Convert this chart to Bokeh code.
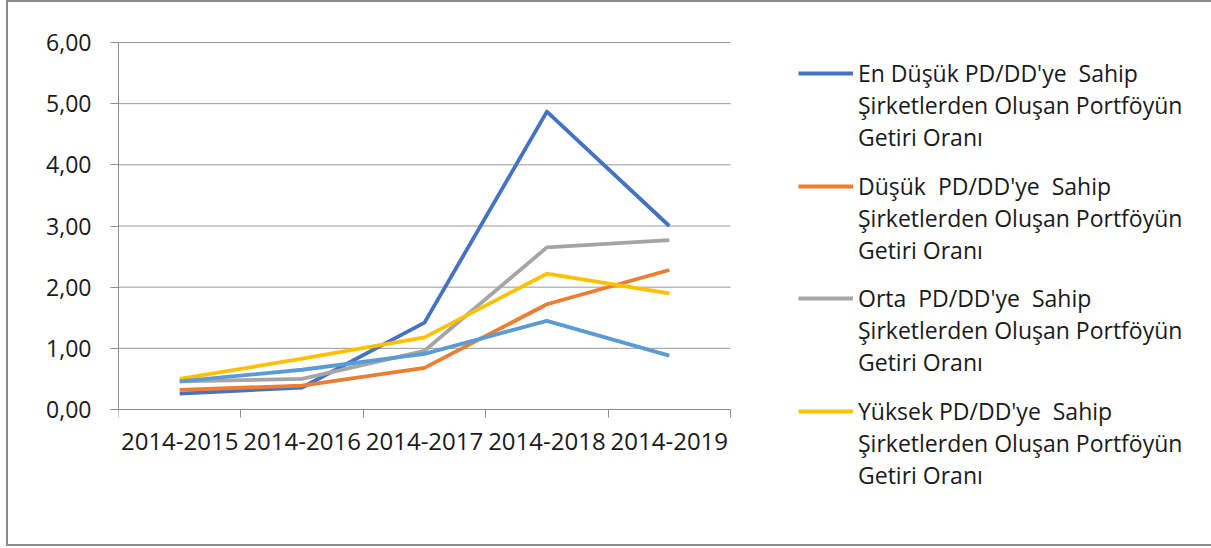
from bokeh.plotting import figure
from bokeh.models import Legend, LegendItem, FixedTicker, ColumnDataSource, Range1d
from bokeh.embed import file_html
from bokeh.resources import INLINE

categories = ["2014-2015", "2014-2016", "2014-2017", "2014-2018", "2014-2019"]
en_dusuk = [0.26, 0.36, 1.42, 4.87, 3.00]
dusuk = [0.32, 0.39, 0.68, 1.72, 2.28]
orta = [0.46, 0.50, 0.96, 2.65, 2.77]
yuksek = [0.50, 0.83, 1.18, 2.22, 1.90]
en_yuksek = [0.46, 0.65, 0.91, 1.45, 0.88]
y_ticks = [0, 1, 2, 3, 4, 5, 6]
y_tick_labels = ["0,00", "1,00", "2,00", "3,00", "4,00", "5,00", "6,00"]
legend_lines = [
    ["En Düşük PD/DD'ye  Sahip", "Şirketlerden Oluşan Portföyün", "Getiri Oranı"],
    ["Düşük  PD/DD'ye  Sahip", "Şirketlerden Oluşan Portföyün", "Getiri Oranı"],
    ["Orta  PD/DD'ye  Sahip", "Şirketlerden Oluşan Portföyün", "Getiri Oranı"],
    ["Yüksek PD/DD'ye  Sahip", "Şirketlerden Oluşan Portföyün", "Getiri Oranı"],
]
colors = ["#4472C4", "#ED7D31", "#A5A5A5", "#FFC000", "#5B9BD5"]

FONT = "Open Sans"
TXT = "#1a1a1a"
AXC = "#8c8c8c"
LW = 3.8

# layout (pixels)
FRAME_W, FRAME_H = 1093, 542
LEFT = 110
PLOT_W = 612            # width used by the categories
PLOT_TOP, PLOT_BOTTOM = 40, 407   # pixel rows of 6,00 and 0,00 inside the frame
ymax = y_ticks[-1]
ppu = (PLOT_BOTTOM - PLOT_TOP) / ymax
n = len(categories)

xpos = [i + 0.5 for i in range(n)]
src = ColumnDataSource(dict(x=xpos, a=en_dusuk, b=dusuk, c=orta, d=yuksek, e=en_yuksek))

p = figure(frame_width=FRAME_W, frame_height=FRAME_H, output_backend="svg", toolbar_location=None,
           x_range=Range1d(0, n * FRAME_W / PLOT_W),
           y_range=Range1d(-(FRAME_H - PLOT_BOTTOM) / ppu, ymax + PLOT_TOP / ppu),
           min_border_left=LEFT, min_border_right=0, min_border_top=0, min_border_bottom=0)
p.outline_line_color = None
p.styles = {"margin-left": "6px", "border": "2px solid #8c8c8c", "border-right": "none"}
p.xgrid.grid_line_color = None
p.ygrid.grid_line_color = None

# horizontal gridlines across the category area only
gsrc = ColumnDataSource(dict(x0=[0] * len(y_ticks), x1=[n] * len(y_ticks), y=y_ticks))
p.segment(x0="x0", x1="x1", y0="y", y1="y", source=gsrc, line_color="#999999", line_width=1)

renderers = []
for key, col in zip(["a", "b", "c", "d", "e"], colors):
    renderers.append(p.line("x", key, source=src, line_color=col, line_width=LW, line_join="round"))

# x axis at y = 0 (ticks at category boundaries, labels at centres)
p.xaxis.fixed_location = 0
p.xaxis.bounds = (0, n)
p.xaxis.ticker = FixedTicker(ticks=xpos, minor_ticks=list(range(n + 1)))
p.xaxis.major_label_overrides = {x: c for x, c in zip(xpos, categories)}
p.xaxis.major_tick_out = 0
p.xaxis.major_tick_in = 0
p.xaxis.minor_tick_out = 8
p.xaxis.minor_tick_in = 0
p.xaxis.minor_tick_line_color = AXC
p.xaxis.axis_line_color = AXC
p.xaxis.major_label_text_font = FONT
p.xaxis.major_label_text_font_size = "24px"
p.xaxis.major_label_text_color = TXT
p.xaxis.major_label_standoff = 15

# y axis
p.yaxis.bounds = (0, ymax)
p.yaxis.ticker = FixedTicker(ticks=y_ticks, minor_ticks=[])
p.yaxis.major_label_overrides = {t: l for t, l in zip(y_ticks, y_tick_labels)}
p.yaxis.major_tick_out = 8
p.yaxis.major_tick_in = 0
p.yaxis.major_tick_line_color = AXC
p.yaxis.axis_line_color = AXC
p.yaxis.major_label_text_font = FONT
p.yaxis.major_label_text_font_size = "23px"
p.yaxis.major_label_text_color = TXT
p.yaxis.major_label_standoff = 19

# legend: one small legend per series, swatch on the first text line
ghost = p.line(x=[], y=[], line_alpha=0)
LEG_X = 680
LEG_TOP = 55
LINE_H = 32
GROUP_STEP = 112.7
for i, (lines, r) in enumerate(zip(legend_lines, renderers[:4])):
    items = [LegendItem(label=lines[0], renderers=[r])]
    items += [LegendItem(label=t, renderers=[ghost]) for t in lines[1:]]
    top = LEG_TOP + i * GROUP_STEP
    vy = FRAME_H - (top + LINE_H * len(lines))
    lg = Legend(items=items, location=(LEG_X, vy), padding=0, margin=0, spacing=0,
                glyph_width=55, glyph_height=LINE_H, label_height=LINE_H, label_standoff=5,
                label_text_font=FONT, label_text_font_size="23px", label_text_color=TXT,
                border_line_color=None, background_fill_alpha=0)
    p.add_layout(lg)

open("out.html", "w").write(file_html(p, INLINE))
